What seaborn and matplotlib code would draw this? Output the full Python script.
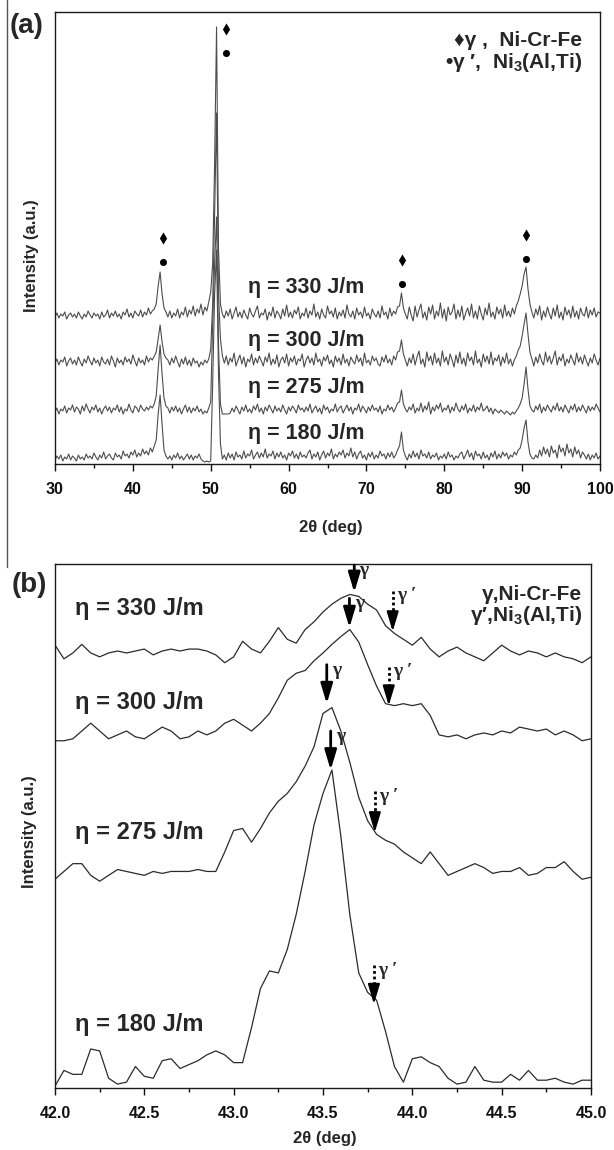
import numpy as np
import matplotlib
matplotlib.use("Agg")
import matplotlib.pyplot as plt
import seaborn as sns
from matplotlib.ticker import MultipleLocator, FormatStrFormatter
from matplotlib.lines import Line2D

# ---------------- panel (a): 30-100 deg scan, one reading every 0.25 deg
theta_a = np.arange(30.0, 100.001, 0.25)

int_a_330 = [
    # 30.0 - 42.75
    147, 151, 146, 150, 148, 152, 145, 149, 151, 147, 150, 146, 152, 148, 145, 150, 147, 153, 149, 146,
    151, 148, 150, 145, 152, 147, 149, 154, 146, 151, 148, 153, 147, 150, 145, 152, 149, 155, 147, 151,
    146, 153, 150, 148, 154, 147, 152, 149, 156, 150, 153, 155,
    # 43.0 - 44.25
    160, 178, 192, 170, 156, 152,
    # 44.5 - 49.75
    147, 153, 146, 151, 148, 155, 146, 152, 149, 157, 147, 154, 150, 158, 148, 155, 151, 160, 149, 157,
    153, 162,
    # 50.0 - 51.5
    172, 200, 300, 437, 215, 160, 150,
    # 51.75 - 74.0
    146, 153, 148, 155, 145, 151, 157, 147, 152, 146, 154, 149, 145, 156, 150, 147, 153, 158, 146, 151,
    149, 155, 144, 152, 148, 157, 146, 153, 150, 145, 155, 148, 159, 147, 152, 146, 154, 150, 157, 145,
    151, 148, 156, 146, 153, 149, 160, 147, 152, 145, 155, 149, 146, 158, 150, 153, 147, 156, 145, 152,
    148, 154, 146, 159, 150, 147, 153, 145, 156, 149, 152, 146, 157, 148, 151, 145, 155, 150, 147, 153,
    146, 158, 149, 152, 145, 156, 148, 153, 150, 157,
    # 74.25 - 75.0
    158, 171, 156, 150,
    # 75.25 - 89.5
    145, 157, 149, 143, 158, 147, 154, 160, 146, 152, 144, 157, 150, 159, 145, 153, 148, 161, 146, 155,
    143, 157, 149, 152, 160, 145, 154, 147, 158, 144, 151, 156, 148, 160, 146, 153, 145, 158, 150, 144,
    156, 149, 161, 147, 152, 145, 157, 150, 155, 146, 159, 148, 153, 147, 156, 150, 158, 163,
    # 89.75 - 91.25
    170, 178, 190, 197, 175, 160, 152,
    # 91.5 - 100
    146, 155, 149, 158, 144, 153, 147, 157, 150, 145, 156, 148, 159, 146, 152, 144, 157, 149, 154, 146,
    158, 147, 153, 145, 156, 150, 148, 157, 146, 154, 149, 156, 147, 152, 151]

int_a_300 = [
    101, 105, 99, 104, 102, 107, 98, 103, 106, 100, 104, 99, 107, 102, 98, 105, 101, 108, 103, 99,
    106, 101, 104, 98, 107, 102, 100, 105, 99, 108, 103, 97, 106, 101, 104, 99, 107, 102, 105, 100,
    109, 103, 98, 106, 101, 104, 99, 108, 102, 106, 104, 108,
    112, 125, 139, 122, 110, 106,
    104, 99, 106, 101, 108, 102, 97, 105, 100, 107, 99, 104, 98, 106, 101, 103, 97, 102, 99, 104,
    101, 105,
    115, 160, 250, 351, 170, 125, 108,
    101, 108, 99, 106, 102, 111, 98, 104, 109, 100, 107, 97, 105, 102, 110, 99, 106, 101, 108, 103,
    98, 107, 102, 111, 99, 105, 100, 109, 97, 104, 107, 101, 110, 98, 106, 102, 108, 99, 105, 103,
    110, 97, 104, 108, 101, 106, 99, 111, 102, 105, 98, 107, 103, 109, 100, 104, 97, 108, 102, 106,
    99, 110, 101, 105, 98, 107, 103, 100, 109, 102, 106, 98, 111, 101, 104, 99, 108, 103, 106, 100,
    98, 107, 102, 109, 101, 105, 99, 108, 104, 112,
    113, 124, 110, 104,
    98, 106, 101, 110, 99, 107, 113, 100, 105, 97, 112, 103, 108, 99, 111, 101, 106, 98, 113, 102,
    107, 99, 110, 104, 97, 109, 101, 112, 100, 106, 98, 111, 103, 107, 99, 113, 101, 105, 97, 110,
    102, 108, 100, 112, 99, 106, 103, 109, 98, 107, 101, 111, 100, 105, 98, 104, 108, 114,
    118, 128, 140, 151, 130, 112, 105,
    98, 107, 101, 110, 103, 99, 112, 102, 108, 100, 106, 113, 99, 107, 103, 110, 98, 105, 101, 109,
    104, 99, 111, 102, 107, 100, 109, 103, 98, 106, 101, 110, 104, 99, 106]

int_a_275 = [
    52, 56, 50, 55, 53, 58, 51, 56, 54, 59, 52, 57, 55, 50, 58, 53, 60, 55, 51, 57,
    54, 59, 52, 56, 50, 55, 58, 53, 57, 51, 56, 54, 59, 52, 57, 50, 55, 53, 60, 54,
    51, 58, 56, 52, 59, 55, 53, 57, 54, 58, 56, 60,
    68, 95, 119, 90, 66, 58,
    56, 51, 57, 53, 58, 52, 56, 50, 55, 59, 52, 57, 51, 56, 53, 58, 52, 55, 50, 53,
    51, 56,
    62, 140, 200, 247, 120, 60, 50,
    50, 50, 50, 51, 56, 52, 58, 54, 50, 57, 53, 59, 52, 55, 51, 58, 54, 60, 52, 56,
    50, 57, 53, 59, 55, 51, 58, 53, 56, 52, 59, 54, 50, 57, 53, 58, 55, 51, 59, 54,
    56, 52, 57, 53, 60, 51, 55, 58, 52, 56, 50, 59, 54, 57, 51, 55, 53, 60, 52, 56,
    58, 51, 55, 59, 53, 57, 50, 56, 54, 60, 52, 58, 55, 51, 57, 53, 59, 54, 56, 52,
    58, 50, 55, 53, 59, 54, 57, 52, 56, 61,
    62, 74, 60, 55,
    52, 57, 54, 60, 51, 56, 53, 61, 52, 58, 54, 62, 50, 57, 53, 59, 55, 61, 52, 56,
    54, 59, 51, 57, 53, 61, 55, 52, 58, 54, 60, 51, 56, 53, 59, 52, 57, 54, 61, 53,
    55, 58, 52, 56, 50, 55, 53, 51, 54, 52, 50, 53, 51, 49, 52, 50, 53, 56,
    60, 66, 80, 97, 75, 58, 54,
    52, 58, 54, 60, 51, 57, 53, 59, 55, 52, 58, 54, 61, 53, 57, 52, 59, 55, 51, 58,
    54, 60, 52, 57, 53, 59, 55, 51, 58, 53, 57, 54, 60, 56, 52]

int_a_180 = [
    4, 8, 5, 9, 3, 7, 5, 10, 4, 8, 6, 3, 9, 5, 7, 4, 10, 6, 8, 5,
    11, 7, 4, 9, 6, 12, 5, 8, 10, 6, 4, 11, 7, 9, 5, 13, 8, 10, 6, 12,
    9, 14, 7, 11, 8, 15, 10, 13, 9, 16, 12, 18,
    24, 50, 69, 40, 14, 8,
    5, 8, 4, 9, 6, 11, 5, 8, 4, 7, 10, 5, 9, 4, 8, 6, 10, 5, 3, 2,
    3, 2,
    3, 80, 170, 214, 90, 20, 5,
    9, 4, 11, 6, 10, 4, 12, 7, 9, 5, 13, 6, 10, 8, 14, 5, 9, 12, 6, 11,
    7, 15, 6, 10, 8, 13, 5, 11, 7, 12, 6, 9, 4, 11, 8, 13, 6, 10, 5, 12,
    7, 9, 6, 11, 14, 5, 10, 7, 12, 4, 9, 13, 6, 11, 8, 15, 5, 10, 7, 12,
    9, 14, 6, 11, 8, 16, 7, 12, 5, 10, 13, 6, 9, 4, 11, 7, 12, 5, 9, 6,
    13, 8, 10, 5, 11, 7, 12, 6, 9, 14,
    18, 32, 14, 8,
    4, 10, 6, 13, 7, 11, 5, 14, 8, 10, 6, 12, 5, 9, 7, 11, 4, 8, 6, 10,
    5, 12, 7, 9, 4, 8, 6, 10, 12, 5, 9, 14, 7, 11, 4, 13, 8, 10, 5, 12,
    6, 9, 4, 11, 7, 13, 5, 10, 6, 12, 8, 11, 5, 9, 7, 12, 9, 14,
    16, 24, 36, 44, 22, 10, 6,
    5, 9, 6, 14, 8, 17, 10, 15, 7, 18, 11, 14, 6, 19, 12, 16, 8, 20, 11, 15,
    7, 17, 10, 14, 6, 12, 9, 5, 10, 4, 9, 6, 11, 5, 8]

traces_a = [int_a_330, int_a_300, int_a_275, int_a_180]
eta_labels = ['η = 330 J/m', 'η = 300 J/m', 'η = 275 J/m', 'η = 180 J/m']
eta_y_a = [177, 124, 77, 31]

# phase markers above the peaks
mark_pos_a = [43.85, 51.9, 74.55, 90.5]
gamma_mark_a = [226, 435, 204, 229]
gprime_mark_a = [202, 411, 180, 205]

legend_a = ['♦γ ,  Ni-Cr-Fe', '•γ ′,  Ni$_3$(Al,Ti)']

# ---------------- panel (b): 42-45 deg detail, one reading every 0.05 deg
theta_b = np.arange(42.0, 45.001, 0.05)

int_b_330 = [1135, 1100, 1115, 1137, 1115, 1105, 1115, 1120, 1115, 1120, 1125, 1110, 1120, 1125, 1120, 1125,
             1125, 1120, 1110, 1090, 1105, 1145, 1125, 1115, 1145, 1180, 1150, 1140, 1175, 1195, 1220, 1240,
             1255, 1265, 1260, 1240, 1225, 1185, 1165, 1150, 1135, 1155, 1125, 1105, 1120, 1130, 1115, 1105,
             1095, 1115, 1135, 1120, 1110, 1120, 1115, 1105, 1115, 1105, 1100, 1090, 1105]

int_b_300 = [890, 890, 895, 915, 935, 915, 895, 905, 915, 900, 895, 910, 925, 915, 895, 900, 915, 905, 915, 935,
             945, 930, 915, 935, 960, 1000, 1045, 1063, 1070, 1095, 1115, 1137, 1157, 1175, 1143, 1085, 1030,
             985, 980, 985, 980, 985, 955, 905, 900, 905, 895, 905, 910, 905, 915, 910, 925, 920, 915, 920, 905,
             915, 905, 890, 895]

int_b_275 = [535, 555, 575, 575, 545, 530, 545, 560, 555, 550, 545, 555, 550, 555, 555, 555, 560, 555, 555, 605,
             660, 665, 630, 665, 705, 735, 755, 785, 825, 875, 960, 975, 915, 835, 745, 685, 650, 635, 625, 605,
             590, 575, 605, 575, 545, 555, 565, 575, 565, 550, 555, 555, 565, 545, 550, 565, 565, 580, 555, 535,
             540]

int_b_180 = [5, 45, 35, 35, 100, 95, 25, 10, 15, 55, 30, 25, 70, 75, 50, 60, 70, 85, 95, 85, 65, 65, 155, 255,
             300, 295, 355, 445, 555, 675, 755, 815, 645, 445, 295, 245, 225, 145, 55, 15, 75, 80, 65, 55, 25,
             10, 15, 55, 20, 15, 15, 35, 20, 45, 20, 20, 25, 15, 10, 20, 20]

traces_b = [int_b_330, int_b_300, int_b_275, int_b_180]
eta_y_b = [1228, 987, 656, 164]

# arrows: solid for gamma, dotted for gamma prime
gamma_x_b = [43.675, 43.648, 43.521, 43.543]
gamma_tail_b = [1340, 1255, 1085, 915]
gamma_tip_b = [1270, 1180, 985, 815]
gprime_x_b = [43.89, 43.868, 43.79, 43.785]
gprime_tail_b = [1275, 1080, 760, 315]
gprime_tip_b = [1170, 980, 655, 215]

legend_b = ['γ,Ni-Cr-Fe', 'γ′,Ni$_3$(Al,Ti)']

# ---------------- style
sns.set_style("ticks")
plt.rcParams['font.family'] = ['Liberation Sans', 'DejaVu Sans']
plt.rcParams['font.weight'] = 'bold'
plt.rcParams['mathtext.fontset'] = 'custom'
plt.rcParams['mathtext.rm'] = 'Liberation Sans:bold'
plt.rcParams['mathtext.it'] = 'Liberation Sans:bold'
plt.rcParams['mathtext.bf'] = 'Liberation Sans:bold'
plt.rcParams['axes.linewidth'] = 1.0
plt.rcParams['axes.edgecolor'] = '#1a1a1a'

W, H = 614, 1150
fig = plt.figure(figsize=(W / 100, H / 100), dpi=100)
ax1 = fig.add_axes([55 / W, 1 - 464 / H, 545 / W, 452 / H])
ax2 = fig.add_axes([55 / W, 1 - 1088 / H, 536 / W, 524 / H])


def style_axis(ax, major, minor, fmt):
    ax.xaxis.set_major_locator(MultipleLocator(major))
    ax.xaxis.set_minor_locator(MultipleLocator(minor))
    ax.xaxis.set_major_formatter(FormatStrFormatter(fmt))
    ax.tick_params(axis='x', which='major', direction='out', length=4.7, width=1.0,
                   labelsize=11.5, pad=8.5, colors='#111')
    ax.tick_params(axis='x', which='minor', direction='out', length=3, width=1.0, colors='#111')
    ax.tick_params(axis='y', which='both', left=False, labelleft=False)
    ax.set_xlabel('2θ (deg)', fontsize=12, fontweight='bold')
    ax.set_ylabel('Intensity (a.u.)', fontsize=12, fontweight='bold')


# ---- (a)
for y in traces_a:
    sns.lineplot(x=theta_a, y=y, ax=ax1, color='#4d4d4d', lw=0.8, estimator=None)
sns.scatterplot(x=mark_pos_a, y=gamma_mark_a, ax=ax1, marker='d', s=38, color='k', linewidth=0, zorder=5)
sns.scatterplot(x=mark_pos_a, y=gprime_mark_a, ax=ax1, marker='o', s=26, color='k', linewidth=0, zorder=5)
for lab, yy in zip(eta_labels, eta_y_a):
    ax1.text(62.3, yy, lab, fontsize=15.5, fontweight='bold', ha='center', va='center')
ax1.text(0.967, 0.936, legend_a[0], transform=ax1.transAxes, fontsize=15, fontweight='bold',
         ha='right', va='center')
ax1.text(0.967, 0.889, legend_a[1], transform=ax1.transAxes, fontsize=15, fontweight='bold',
         ha='right', va='center')
ax1.set_xlim(30, 100)
ax1.set_ylim(0, 452)
style_axis(ax1, 10, 5, '%d')
ax1.xaxis.set_label_coords(0.506, -0.124)
ax1.yaxis.set_label_coords(-0.029, 0.46)

# ---- (b)
for y in traces_b:
    sns.lineplot(x=theta_b, y=y, ax=ax2, color='#2b2b2b', lw=0.9, estimator=None)
for lab, yy in zip(eta_labels, eta_y_b):
    ax2.text(42.11, yy, lab, fontsize=17, fontweight='bold', ha='left', va='center')

head = '-|>,head_length=0.6,head_width=0.18'
head_units = 45
for x, t0, t1 in zip(gamma_x_b, gamma_tail_b, gamma_tip_b):
    ax2.annotate('', xy=(x, t1), xytext=(x, t0),
                 arrowprops=dict(arrowstyle=head, mutation_scale=20, lw=2, color='k',
                                 shrinkA=0, shrinkB=0))
    ax2.text(x + 0.03, t0 + 8, 'γ', family=['Liberation Serif', 'DejaVu Serif'], fontsize=14,
             fontweight='bold', ha='left', va='top')
for x, t0, t1 in zip(gprime_x_b, gprime_tail_b, gprime_tip_b):
    ax2.plot([x, x], [t0, t1 + head_units], color='k', lw=2, ls=(0, (1, 1)), solid_capstyle='butt')
    ax2.annotate('', xy=(x, t1), xytext=(x, t1 + head_units + 4),
                 arrowprops=dict(arrowstyle=head, mutation_scale=20, lw=1.5, color='k',
                                 shrinkA=0, shrinkB=0))
    ax2.text(x + 0.025, t0 + 8, 'γ ′', family=['Liberation Serif', 'DejaVu Serif'], fontsize=14,
             fontweight='bold', ha='left', va='top')

ax2.text(0.983, 0.942, legend_b[0], transform=ax2.transAxes, fontsize=15, fontweight='bold',
         ha='right', va='center')
ax2.text(0.983, 0.901, legend_b[1], transform=ax2.transAxes, fontsize=15, fontweight='bold',
         ha='right', va='center')
ax2.set_xlim(42, 45)
ax2.set_ylim(0, 1343)
style_axis(ax2, 0.5, 0.25, '%.1f')
ax2.xaxis.set_label_coords(0.503, -0.082)
ax2.yaxis.set_label_coords(-0.034, 0.49)

# panel letters and the thin rule on the left edge
fig.text(26.5 / W, 1 - 26 / H, '(a)', fontsize=20, fontweight='bold', ha='center', va='center')
fig.text(29 / W, 1 - 585 / H, '(b)', fontsize=20, fontweight='bold', ha='center', va='center')
fig.add_artist(Line2D([7 / W, 7 / W], [1.0, 1 - 567 / H], transform=fig.transFigure,
                      color='#555555', lw=1.0))

fig.savefig('out.png', dpi=100)
